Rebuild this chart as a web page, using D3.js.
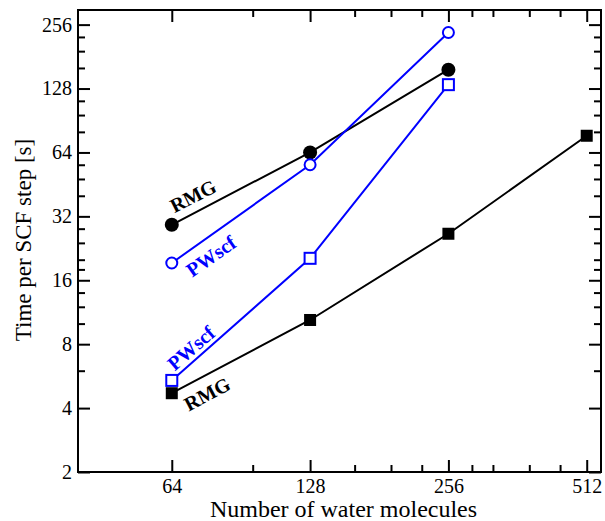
<!DOCTYPE html>
<html lang="en">
<head>
<meta charset="utf-8">
<title>Time per SCF step</title>
<script src="https://d3js.org/d3.v7.min.js"></script>
<style>
  body { margin: 0; background: #fff; }
  text { font-family: "Liberation Serif", "DejaVu Serif", serif; }
</style>
</head>
<body>
<script>
var w = 605, h = 521;
var margin = {top: 10, right: 4, bottom: 49, left: 78};
var iw = w - margin.left - margin.right;
var ih = h - margin.top - margin.bottom;

// data
var molecules = [64, 128, 256, 512];
var rmgCircle = [29.2, 64.0, 157];
var pwCircle = [19.3, 56.0, 235];
var pwSquare = [5.4, 20.3, 133.5];
var rmgSquare = [4.7, 10.4, 26.5, 76.7];

var xMajor = [64, 128, 256, 512];
var xMinor = [96, 160, 192, 224, 288, 320, 384, 448];
var yMajor = [2, 4, 8, 16, 32, 64, 128, 256];
var yMinor = [6, 10, 12, 14, 18, 20, 24, 28, 40, 48, 56, 80, 96, 112, 160, 192, 224];

var blue = "#0000ff";

var svg = d3.select("body").append("svg")
    .attr("width", w)
    .attr("height", h);

var g = svg.append("g")
    .attr("transform", "translate(" + margin.left + "," + margin.top + ")");

var x = d3.scaleLog().base(2).domain([40, 550]).range([0, iw]);
var y = d3.scaleLog().base(2).domain([2, 300]).range([ih, 0]);

function styleAxis(sel) {
  sel.select(".domain").remove();
  sel.selectAll(".tick line").attr("stroke", "#000").attr("stroke-width", 2);
  sel.selectAll("text").attr("font-size", "20px").attr("fill", "#000")
     .style("font-family", "Liberation Serif, serif");
}

// major ticks with labels
g.append("g")
    .attr("transform", "translate(0," + ih + ")")
    .call(d3.axisBottom(x).tickValues(xMajor).tickFormat(d3.format("d")).tickSize(-12).tickPadding(7))
    .call(styleAxis);
g.append("g")
    .call(d3.axisLeft(y).tickValues(yMajor).tickFormat(d3.format("d")).tickSize(-12).tickPadding(6))
    .call(styleAxis);
// mirrored ticks, no labels
g.append("g")
    .call(d3.axisTop(x).tickValues(xMajor).tickFormat("").tickSize(-12))
    .call(styleAxis);
g.append("g")
    .attr("transform", "translate(" + iw + ",0)")
    .call(d3.axisRight(y).tickValues(yMajor).tickFormat("").tickSize(-12))
    .call(styleAxis);

// minor ticks
g.append("g").attr("transform", "translate(0," + ih + ")")
    .call(d3.axisBottom(x).tickValues(xMinor).tickFormat("").tickSize(-7)).call(styleAxis);
g.append("g")
    .call(d3.axisTop(x).tickValues(xMinor).tickFormat("").tickSize(-7)).call(styleAxis);
g.append("g")
    .call(d3.axisLeft(y).tickValues(yMinor).tickFormat("").tickSize(-7)).call(styleAxis);
g.append("g").attr("transform", "translate(" + iw + ",0)")
    .call(d3.axisRight(y).tickValues(yMinor).tickFormat("").tickSize(-7)).call(styleAxis);

// frame
g.append("rect")
    .attr("width", iw).attr("height", ih)
    .attr("fill", "none").attr("stroke", "#000").attr("stroke-width", 2);

var line = d3.line()
    .x(function(d) { return x(d[0]); })
    .y(function(d) { return y(d[1]); });

function pairs(vals) {
  return vals.map(function(v, i) { return [molecules[i], v]; });
}

var series = [
  {vals: rmgSquare, color: "#000", shape: "square", fill: true},
  {vals: pwSquare, color: blue, shape: "square", fill: false},
  {vals: rmgCircle, color: "#000", shape: "circle", fill: true},
  {vals: pwCircle, color: blue, shape: "circle", fill: false}
];

series.forEach(function(s) {
  var pts = pairs(s.vals);
  g.append("path")
      .datum(pts)
      .attr("fill", "none")
      .attr("stroke", s.color)
      .attr("stroke-width", 2)
      .attr("d", line);
  if (s.shape === "circle") {
    g.selectAll(null).data(pts).enter().append("circle")
        .attr("cx", function(d) { return x(d[0]); })
        .attr("cy", function(d) { return y(d[1]); })
        .attr("r", s.fill ? 7 : 5.5)
        .attr("fill", s.fill ? s.color : "#fff")
        .attr("stroke", s.color)
        .attr("stroke-width", s.fill ? 0 : 2);
  } else {
    var sz = s.fill ? 12 : 11;
    g.selectAll(null).data(pts).enter().append("rect")
        .attr("x", function(d) { return x(d[0]) - sz / 2; })
        .attr("y", function(d) { return y(d[1]) - sz / 2; })
        .attr("width", sz).attr("height", sz)
        .attr("fill", s.fill ? s.color : "#fff")
        .attr("stroke", s.color)
        .attr("stroke-width", s.fill ? 0 : 2);
  }
});

// inline labels along the lines
var labels = [
  {t: "RMG", cx: 193, cy: 196, rot: -27, color: "#000"},
  {t: "PWscf", cx: 211, cy: 256, rot: -35, color: blue},
  {t: "PWscf", cx: 191, cy: 348, rot: -41, color: blue},
  {t: "RMG", cx: 207, cy: 394, rot: -28, color: "#000"}
];
svg.selectAll(null).data(labels).enter().append("text")
    .attr("transform", function(d) { return "translate(" + d.cx + "," + d.cy + ") rotate(" + d.rot + ")"; })
    .attr("text-anchor", "middle")
    .attr("dy", "0.35em")
    .attr("font-size", "20px")
    .attr("font-weight", "bold")
    .attr("fill", function(d) { return d.color; })
    .text(function(d) { return d.t; });

// axis titles
svg.append("text")
    .attr("x", margin.left + iw / 2 + 4)
    .attr("y", 517)
    .attr("text-anchor", "middle")
    .attr("font-size", "24px")
    .text("Number of water molecules");

svg.append("text")
    .attr("transform", "translate(31," + (margin.top + ih / 2 - 1) + ") rotate(-90)")
    .attr("text-anchor", "middle")
    .attr("font-size", "23px")
    .text("Time per SCF step [s]");
</script>
</body>
</html>
